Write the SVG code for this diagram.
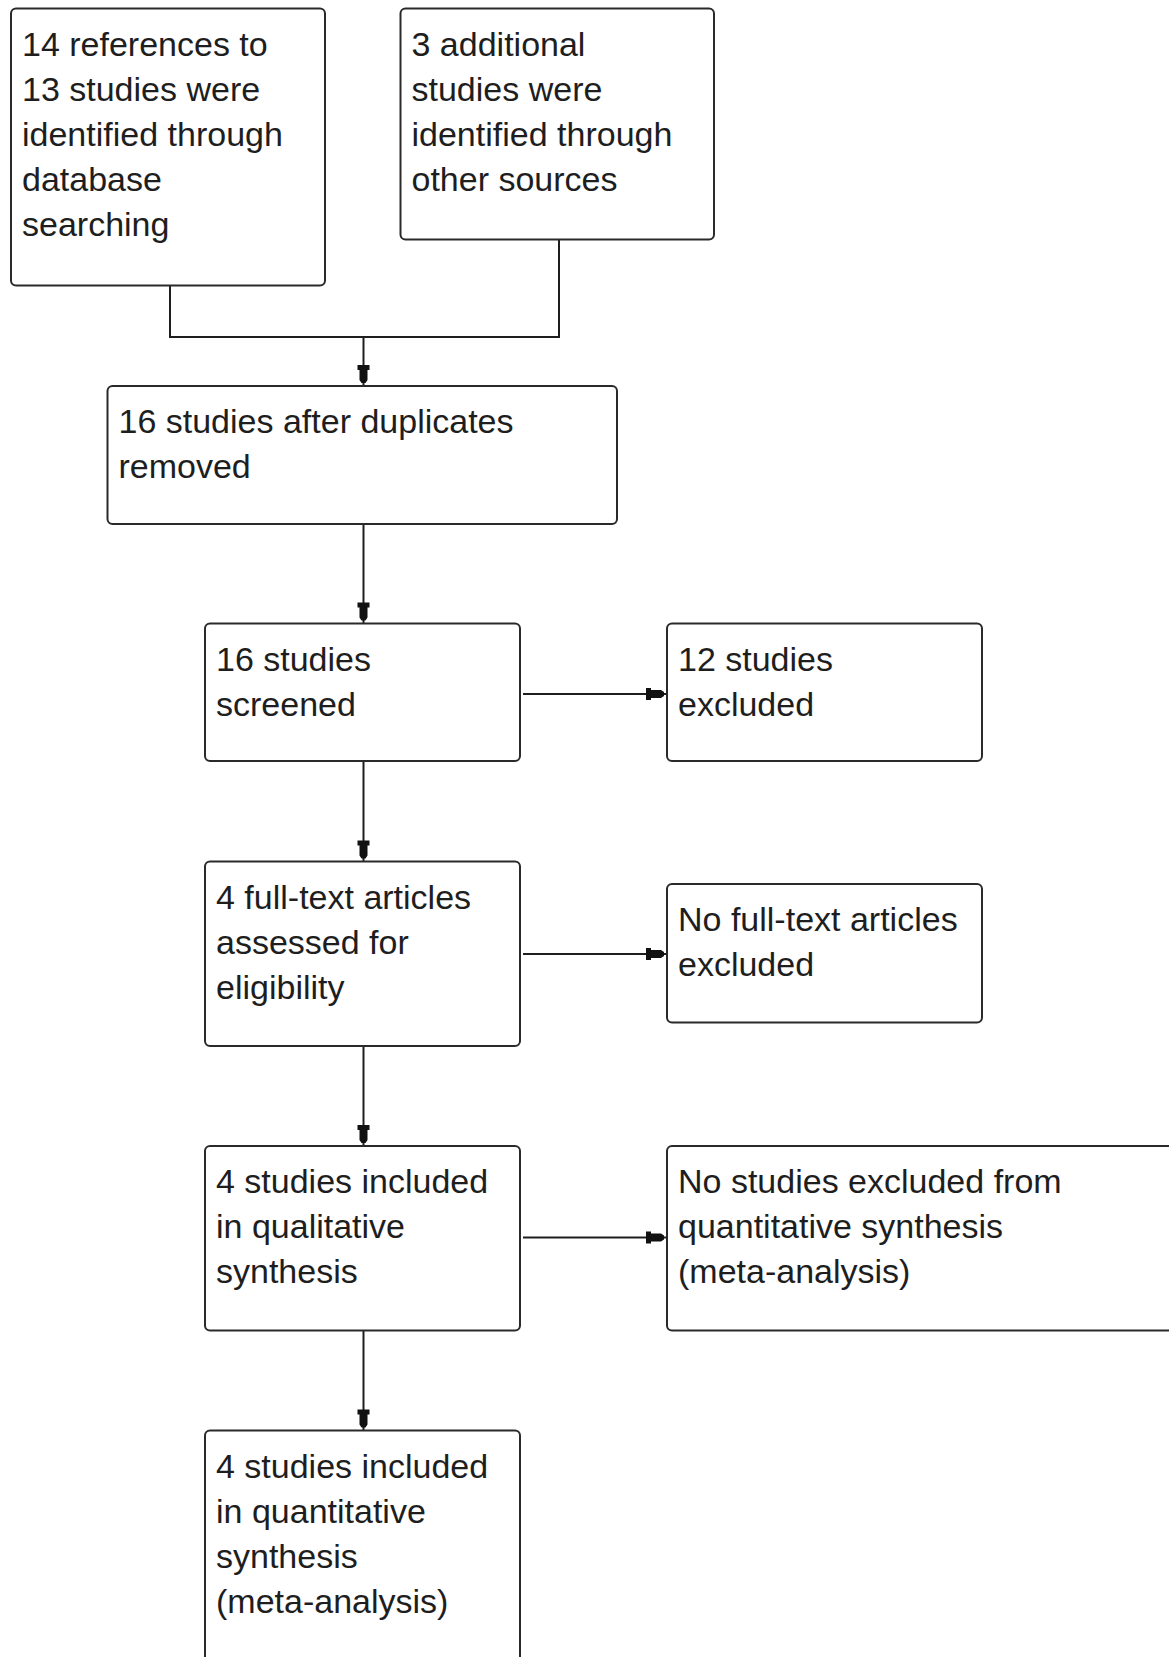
<svg xmlns="http://www.w3.org/2000/svg" width="1169" height="1657" viewBox="0 0 1169 1657">
  <style>
    .box { fill: #ffffff; stroke: #2a2a2a; stroke-width: 2; }
    .lbl { font-family: "Liberation Sans", Arial, sans-serif; font-size: 34px; fill: #1e1e1e; }
    .conn { fill: none; stroke: #1e1e1e; stroke-width: 2; }
  </style>
  <defs>
    <marker id="arrow" markerUnits="userSpaceOnUse" markerWidth="24" markerHeight="14" viewBox="-22 -7 24 14" refX="0" refY="0" orient="auto" overflow="visible">
      <path d="M-21,-6 H-16 V-4 H-6 L-3,-2 V2 L-6,4 H-16 V6 H-21 Z" fill="#111111"/>
    </marker>
  </defs>
  <rect width="1169" height="1657" fill="#ffffff"/>

  <g id="connectors">
    <path class="conn" d="M170,286 V337 H559 V240"/>
    <path class="conn" d="M363.5,337 V386" marker-end="url(#arrow)"/>
    <path class="conn" d="M363.5,524 V623.5" marker-end="url(#arrow)"/>
    <path class="conn" d="M363.5,761 V861.5" marker-end="url(#arrow)"/>
    <path class="conn" d="M363.5,1046 V1146" marker-end="url(#arrow)"/>
    <path class="conn" d="M363.5,1330.5 V1430.5" marker-end="url(#arrow)"/>
    <path class="conn" d="M523,694 H667" marker-end="url(#arrow)"/>
    <path class="conn" d="M523,954 H667" marker-end="url(#arrow)"/>
    <path class="conn" d="M523,1237.5 H667" marker-end="url(#arrow)"/>
  </g>

  <g id="node-db">
    <rect class="box" x="11" y="8.5" width="314" height="277" rx="5"/>
    <text class="lbl" x="22" y="55.5">
      <tspan x="22" y="55.5">14 references to</tspan>
      <tspan x="22" y="100.5">13 studies were</tspan>
      <tspan x="22" y="145.5">identified through</tspan>
      <tspan x="22" y="190.5">database</tspan>
      <tspan x="22" y="235.5">searching</tspan>
    </text>
  </g>

  <g id="node-other">
    <rect class="box" x="400.5" y="8.5" width="313.5" height="231" rx="5"/>
    <text class="lbl">
      <tspan x="411.5" y="55.5">3 additional</tspan>
      <tspan x="411.5" y="100.5">studies were</tspan>
      <tspan x="411.5" y="145.5">identified through</tspan>
      <tspan x="411.5" y="190.5">other sources</tspan>
    </text>
  </g>

  <g id="node-dedup">
    <rect class="box" x="107.5" y="386" width="509.5" height="138" rx="5"/>
    <text class="lbl">
      <tspan x="118.5" y="433">16 studies after duplicates</tspan>
      <tspan x="118.5" y="478">removed</tspan>
    </text>
  </g>

  <g id="node-screened">
    <rect class="box" x="205" y="623.5" width="315" height="137.5" rx="5"/>
    <text class="lbl">
      <tspan x="216" y="670.5">16 studies</tspan>
      <tspan x="216" y="715.5">screened</tspan>
    </text>
  </g>

  <g id="node-excl1">
    <rect class="box" x="667" y="623.5" width="315" height="137.5" rx="5"/>
    <text class="lbl">
      <tspan x="678" y="670.5">12 studies</tspan>
      <tspan x="678" y="715.5">excluded</tspan>
    </text>
  </g>

  <g id="node-fulltext">
    <rect class="box" x="205" y="861.5" width="315" height="184.5" rx="5"/>
    <text class="lbl">
      <tspan x="216" y="909">4 full-text articles</tspan>
      <tspan x="216" y="954">assessed for</tspan>
      <tspan x="216" y="999">eligibility</tspan>
    </text>
  </g>

  <g id="node-excl2">
    <rect class="box" x="667" y="884" width="315" height="138.5" rx="5"/>
    <text class="lbl">
      <tspan x="678" y="931">No full-text articles</tspan>
      <tspan x="678" y="976">excluded</tspan>
    </text>
  </g>

  <g id="node-qual">
    <rect class="box" x="205" y="1146" width="315" height="184.5" rx="5"/>
    <text class="lbl">
      <tspan x="216" y="1193">4 studies included</tspan>
      <tspan x="216" y="1238">in qualitative</tspan>
      <tspan x="216" y="1283">synthesis</tspan>
    </text>
  </g>

  <g id="node-excl3">
    <rect class="box" x="667" y="1146" width="540" height="184.5" rx="5"/>
    <text class="lbl">
      <tspan x="678" y="1193">No studies excluded from</tspan>
      <tspan x="678" y="1238">quantitative synthesis</tspan>
      <tspan x="678" y="1283">(meta-analysis)</tspan>
    </text>
  </g>

  <g id="node-quant">
    <rect class="box" x="205" y="1430.5" width="315" height="260" rx="5"/>
    <text class="lbl">
      <tspan x="216" y="1478">4 studies included</tspan>
      <tspan x="216" y="1523">in quantitative</tspan>
      <tspan x="216" y="1568">synthesis</tspan>
      <tspan x="216" y="1613">(meta-analysis)</tspan>
    </text>
  </g>
</svg>
